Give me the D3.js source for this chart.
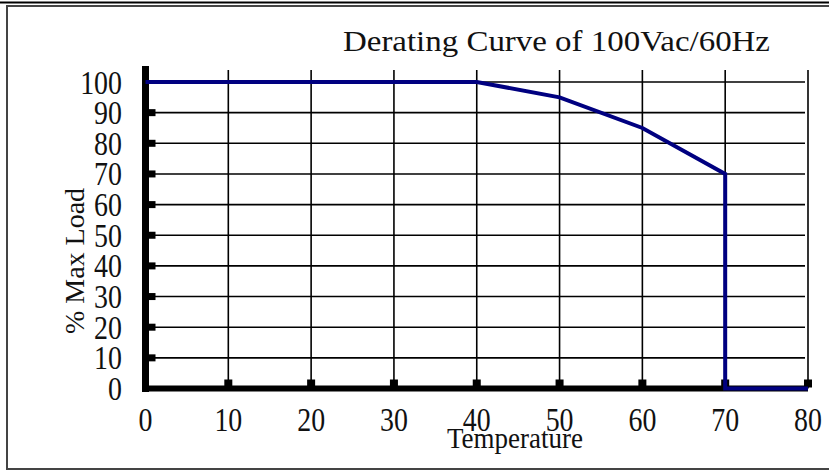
<!DOCTYPE html>
<html>
<head>
<meta charset="utf-8">
<script src="https://cdn.jsdelivr.net/npm/d3@7"></script>
<style>
  html, body { margin: 0; padding: 0; background: #fff; }
  #chart { width: 829px; height: 472px; }
</style>
</head>
<body>
<div id="chart"></div>
<script>
// datos
const temperatura = [0, 40, 50, 60, 70, 70, 80];
const cargaMax = [100, 100, 95, 85, 70, 0, 0];
const ticksX = [0, 10, 20, 30, 40, 50, 60, 70, 80];
const ticksY = [0, 10, 20, 30, 40, 50, 60, 70, 80, 90, 100];
const titulo = "Derating Curve of 100Vac/60Hz";
const etiquetaX = "Temperature";
const etiquetaY = "% Max Load";

const width = 829, height = 472;
const fuente = "'Liberation Serif', 'Times New Roman', serif";
const colorTexto = "#111";
const colorLinea = "#000080";

const svg = d3.select("#chart").append("svg")
  .attr("width", width)
  .attr("height", height)
  .style("background", "#fff");

// marco
svg.append("line")
  .attr("x1", 0).attr("x2", width).attr("y1", 2.5).attr("y2", 2.5)
  .attr("stroke", "#000").attr("stroke-width", 2);
svg.append("rect")
  .attr("x", 7).attr("y", 6).attr("width", 840).attr("height", 463)
  .attr("fill", "none").attr("stroke", "#444").attr("stroke-width", 2);

const x = d3.scaleLinear().domain([0, 80]).range([145.5, 808]);
const y = d3.scaleLinear().domain([0, 100]).range([388.5, 82]);

// rejilla
svg.append("g").selectAll("line")
  .data(ticksX.slice(1))
  .join("line")
  .attr("x1", d => x(d)).attr("x2", d => x(d))
  .attr("y1", 70).attr("y2", y(0))
  .attr("stroke", "#000").attr("stroke-width", 1.6);

svg.append("g").selectAll("line")
  .data(ticksY.slice(1))
  .join("line")
  .attr("x1", x(0)).attr("x2", 805)
  .attr("y1", d => y(d)).attr("y2", d => y(d))
  .attr("stroke", "#000").attr("stroke-width", 1.6);

// ejes gruesos
svg.append("line")
  .attr("x1", x(0)).attr("x2", x(0)).attr("y1", 66).attr("y2", y(0) + 3.5)
  .attr("stroke", "#000").attr("stroke-width", 7);
svg.append("line")
  .attr("x1", x(0) - 3.5).attr("x2", x(80)).attr("y1", y(0)).attr("y2", y(0))
  .attr("stroke", "#000").attr("stroke-width", 6);

// marcas cuadradas
svg.append("g").selectAll("rect")
  .data(ticksX.slice(1))
  .join("rect")
  .attr("x", d => x(d) - 4).attr("y", y(0) - 9)
  .attr("width", 8).attr("height", 8)
  .attr("fill", "#000");
svg.append("g").selectAll("rect")
  .data(ticksY.slice(1, -1))
  .join("rect")
  .attr("x", x(0) + 2).attr("y", d => y(d) - 3.5)
  .attr("width", 8).attr("height", 7)
  .attr("fill", "#000");

// curva
const linea = d3.line()
  .x(d => x(d[0]))
  .y(d => y(d[1]));
svg.append("path")
  .datum(temperatura.map((t, i) => [t, cargaMax[i]]))
  .attr("d", linea)
  .attr("fill", "none")
  .attr("stroke", colorLinea)
  .attr("stroke-width", 4)
  .attr("stroke-linejoin", "miter");

// etiquetas de ticks (letra estrecha y alta como en el original)
svg.append("g").selectAll("text")
  .data(ticksY)
  .join("text")
  .attr("transform", d => `translate(122,${y(d) + 11.5}) scale(0.93,1.15)`)
  .attr("text-anchor", "end")
  .attr("font-family", fuente)
  .attr("font-size", 30)
  .attr("fill", colorTexto)
  .text(d => d);

svg.append("g").selectAll("text")
  .data(ticksX)
  .join("text")
  .attr("transform", d => `translate(${x(d)},431) scale(0.93,1.15)`)
  .attr("text-anchor", "middle")
  .attr("font-family", fuente)
  .attr("font-size", 30)
  .attr("fill", colorTexto)
  .text(d => d);

// títulos
svg.append("text")
  .attr("x", 343).attr("y", 51)
  .attr("textLength", 427)
  .attr("lengthAdjust", "spacingAndGlyphs")
  .attr("font-family", fuente)
  .attr("font-size", 30)
  .attr("fill", colorTexto)
  .text(titulo);

svg.append("text")
  .attr("transform", "translate(515,448) scale(1,1.08)")
  .attr("text-anchor", "middle")
  .attr("font-family", fuente)
  .attr("font-size", 27)
  .attr("fill", colorTexto)
  .text(etiquetaX);

svg.append("text")
  .attr("transform", "translate(84,261) rotate(-90)")
  .attr("text-anchor", "middle")
  .attr("font-family", fuente)
  .attr("font-size", 28)
  .attr("fill", colorTexto)
  .text(etiquetaY);
</script>
</body>
</html>
